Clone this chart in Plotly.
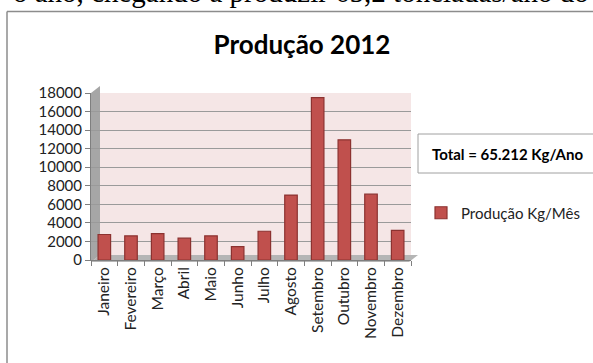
import plotly.graph_objects as go

months = ["Janeiro", "Fevereiro", "Março", "Abril", "Maio", "Junho", "Julho",
          "Agosto", "Setembro", "Outubro", "Novembro", "Dezembro"]
producao = [2750, 2600, 2850, 2350, 2600, 1450, 3100, 7000, 17500, 12950, 7100, 3200]
y_ticks = [0, 2000, 4000, 6000, 8000, 10000, 12000, 14000, 16000, 18000]
y_tick_text = [str(v) for v in y_ticks]

W, H = 593, 363
L, R, T, B = 91, 593 - 411, 93, 363 - 260
ph = H - T - B
pw = W - L - R

def px(x):
    return (x - L) / pw

def py(y):
    return (H - B - y) / ph

fig = go.Figure()
fig.add_trace(go.Bar(
    x=months, y=producao, name="Produção Kg/Mês",
    marker=dict(color="#C0504D", line=dict(color="#8C3230", width=1.2)),
    width=0.47,
))

shapes = [
    dict(type="path", xref="paper", yref="paper", layer="below",
         path=f"M {px(91)} {py(93)} L {px(100)} {py(86)} L {px(100)} {py(255)} L {px(91)} {py(262)} Z",
         fillcolor="#A6A6A6", line=dict(width=0)),
    dict(type="path", xref="paper", yref="paper", layer="below",
         path=f"M {px(91)} {py(262)} L {px(100)} {py(255)} L {px(418)} {py(255)} L {px(409)} {py(262)} Z",
         fillcolor="#B5B5B5", line=dict(width=0)),
    dict(type="line", xref="paper", yref="paper", x0=px(7), x1=px(7), y0=py(11.5), y1=py(380),
         line=dict(color="#8C8C8C", width=1.5)),
    dict(type="line", xref="paper", yref="paper", x0=px(7), x1=px(600), y0=py(11.5), y1=py(11.5),
         line=dict(color="#8C8C8C", width=1.5)),
    dict(type="rect", xref="paper", yref="paper", x0=px(418), x1=px(600), y0=py(134), y1=py(173),
         line=dict(color="#A0A0A0", width=1), fillcolor="white"),
]

annotations = [
    dict(text="o ano, chegando a produzir 65,2 toneladas/ano do", xref="paper", yref="paper",
         x=px(11), y=py(-8), xanchor="left", yanchor="middle", showarrow=False,
         font=dict(family="Liberation Serif", size=29, color="black")),
    dict(text="<b>Total = 65.212 Kg/Ano</b>", xref="paper", yref="paper",
         x=px(507), y=py(154), xanchor="center", yanchor="middle", showarrow=False,
         font=dict(family="Lato", size=15, color="black")),
]

fig.update_layout(
    width=W, height=H,
    margin=dict(l=L, r=R, t=T, b=B, autoexpand=False),
    paper_bgcolor="white",
    plot_bgcolor="#F5E6E6",
    title=dict(text="<b>Produção 2012</b>", xref="container", yref="container",
               x=302 / W, xanchor="center", y=1 - 45 / H, yanchor="middle",
               font=dict(family="Lato", size=26, color="black")),
    font=dict(family="Lato", size=15, color="#222"),
    bargap=0.55,
    xaxis=dict(
        type="category", tickangle=-90, ticks="outside", tickson="boundaries", ticklen=5,
        tickcolor="#7F7F7F", showline=True, linecolor="#7F7F7F", linewidth=1,
        showgrid=False, tickfont=dict(size=15.5, color="#222"),
    ),
    yaxis=dict(
        range=[0, 18000], tickvals=y_ticks, ticktext=y_tick_text, ticks="outside", ticklen=5,
        tickcolor="#7F7F7F", showline=True, linecolor="#7F7F7F", linewidth=1, showgrid=True,
        gridcolor="#9A9A9A", gridwidth=1.3, zeroline=False, tickfont=dict(size=15, color="#222"),
    ),
    legend=dict(x=px(421), y=py(213), xanchor="left", yanchor="middle", bgcolor="rgba(0,0,0,0)",
                font=dict(size=15, color="#222"), itemwidth=30),
    showlegend=True,
    shapes=shapes,
    annotations=annotations,
)

fig.write_html("out.html", config=dict(displayModeBar=False),
               post_script="document.body.style.margin='0px';document.body.style.overflow='hidden';")
